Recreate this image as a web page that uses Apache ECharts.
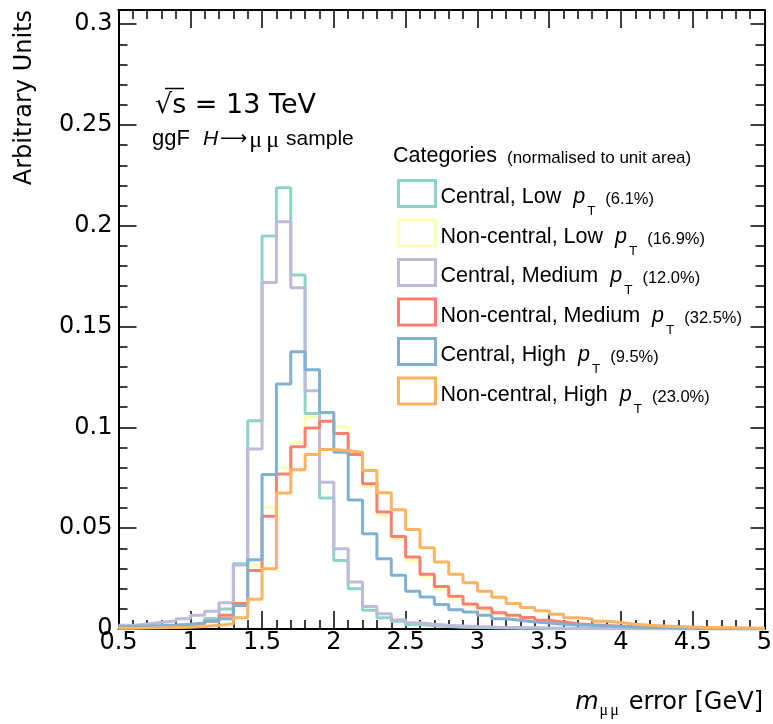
<!DOCTYPE html>
<html>
<head>
<meta charset="utf-8">
<title>m_mumu error per category</title>
<script src="https://cdn.jsdelivr.net/npm/echarts@6/dist/echarts.min.js"></script>
<style>
  html, body { margin: 0; padding: 0; background: #fff; }
  #chart { width: 773px; height: 724px; }
</style>
</head>
<body>
<div id="chart"></div>
<script>
// lower bin edges, bins are 0.1 GeV wide
var binLow = [0.5, 0.6, 0.7, 0.8, 0.9, 1.0, 1.1, 1.2, 1.3, 1.4,
              1.5, 1.6, 1.7, 1.8, 1.9, 2.0, 2.1, 2.2, 2.3, 2.4,
              2.5, 2.6, 2.7, 2.8, 2.9, 3.0, 3.1, 3.2, 3.3, 3.4,
              3.5, 3.6, 3.7, 3.8, 3.9, 4.0, 4.1, 4.2, 4.3, 4.4,
              4.5, 4.6, 4.7, 4.8, 4.9];
var binHigh = 5.0;

var categoryNames = ['Central, Low', 'Non-central, Low', 'Central, Medium',
                     'Non-central, Medium', 'Central, High', 'Non-central, High'];
var categoryShares = ['6.1%', '16.9%', '12.0%', '32.5%', '9.5%', '23.0%'];
var categoryColors = ['#8dd3c7', '#ffffb3', '#bebada', '#fb8072', '#80b1d3', '#fdb462'];

var centralLow = [0.0008, 0.0009, 0.0011, 0.0014, 0.0019, 0.0027, 0.0052, 0.0099, 0.0323, 0.1033,
                  0.1949, 0.2188, 0.1756, 0.1069, 0.0650, 0.0340, 0.0200, 0.0093, 0.0056, 0.0038,
                  0.0022, 0.0016, 0.0012, 0.0009, 0.0007, 0.0006, 0.0005, 0.0004, 0.0004, 0.0003,
                  0.0003, 0.0002, 0.0002, 0.0002, 0.0001, 0.0001, 0.0001, 0.0001, 0.0001, 0.0001,
                  0.0001, 0.0000, 0.0000, 0.0000, 0.0000];
var noncentralLow = [0.0006, 0.0008, 0.0010, 0.0013, 0.0018, 0.0025, 0.0035, 0.0065, 0.0130, 0.0315,
                     0.0601, 0.0799, 0.0926, 0.1053, 0.1065, 0.1003, 0.0880, 0.0705, 0.0560, 0.0445,
                     0.0340, 0.0260, 0.0198, 0.0150, 0.0116, 0.0095, 0.0075, 0.0060, 0.0050, 0.0040,
                     0.0032, 0.0024, 0.0019, 0.0015, 0.0012, 0.0010, 0.0008, 0.0007, 0.0006, 0.0005,
                     0.0004, 0.0003, 0.0003, 0.0002, 0.0002];
var centralMedium = [0.0018, 0.0025, 0.0033, 0.0040, 0.0051, 0.0068, 0.0088, 0.0130, 0.0317, 0.0893,
                     0.1718, 0.2020, 0.1693, 0.1182, 0.0728, 0.0398, 0.0233, 0.0112, 0.0076, 0.0046,
                     0.0031, 0.0023, 0.0018, 0.0015, 0.0012, 0.0010, 0.0008, 0.0007, 0.0006, 0.0005,
                     0.0004, 0.0004, 0.0003, 0.0003, 0.0002, 0.0002, 0.0002, 0.0001, 0.0001, 0.0001,
                     0.0001, 0.0001, 0.0001, 0.0000, 0.0000];
var noncentralMedium = [0.0008, 0.0010, 0.0012, 0.0015, 0.0020, 0.0028, 0.0038, 0.0068, 0.0126, 0.0290,
                        0.0559, 0.0769, 0.0904, 0.0997, 0.1030, 0.0970, 0.0865, 0.0720, 0.0580, 0.0459,
                        0.0357, 0.0271, 0.0211, 0.0163, 0.0124, 0.0104, 0.0081, 0.0068, 0.0057, 0.0043,
                        0.0035, 0.0026, 0.0021, 0.0017, 0.0014, 0.0011, 0.0009, 0.0007, 0.0006, 0.0005,
                        0.0004, 0.0003, 0.0003, 0.0002, 0.0002];
var centralHigh = [0.0012, 0.0015, 0.0017, 0.0020, 0.0024, 0.0030, 0.0040, 0.0051, 0.0117, 0.0343,
                   0.0766, 0.1215, 0.1375, 0.1286, 0.1074, 0.0876, 0.0640, 0.0472, 0.0348, 0.0266,
                   0.0187, 0.0159, 0.0121, 0.0096, 0.0084, 0.0068, 0.0051, 0.0043, 0.0035, 0.0030,
                   0.0024, 0.0020, 0.0018, 0.0015, 0.0012, 0.0010, 0.0009, 0.0007, 0.0006, 0.0005,
                   0.0004, 0.0004, 0.0003, 0.0003, 0.0002];
var noncentralHigh = [0.0004, 0.0005, 0.0006, 0.0007, 0.0009, 0.0013, 0.0018, 0.0026, 0.0056, 0.0147,
                      0.0299, 0.0675, 0.0790, 0.0865, 0.0890, 0.0885, 0.0876, 0.0786, 0.0676, 0.0591,
                      0.0494, 0.0403, 0.0332, 0.0272, 0.0230, 0.0187, 0.0157, 0.0127, 0.0107, 0.0091,
                      0.0073, 0.0056, 0.0050, 0.0038, 0.0032, 0.0023, 0.0018, 0.0015, 0.0012, 0.0010,
                      0.0008, 0.0007, 0.0006, 0.0005, 0.0004];

var allValues = [centralLow, noncentralLow, centralMedium, noncentralMedium, centralHigh, noncentralHigh];

// turn bin contents into step points (left edge + closing right edge)
function histPoints(vals) {
    var pts = [];
    for (var i = 0; i < binLow.length; i++) {
        pts.push([binLow[i], vals[i]]);
    }
    pts.push([binHigh, vals[vals.length - 1]]);
    return pts;
}

var axisFont = 'DejaVu Sans';
var textFont = 'Liberation Sans';

function makeX(pos) {
    return {
        type: 'value', position: pos, min: 0.5, max: 5, interval: 0.5,
        axisLine: { show: true, onZero: false, lineStyle: { color: '#000', width: 2 } },
        axisTick: { show: true, inside: true, length: 18, lineStyle: { color: '#000', width: 1.5 } },
        minorTick: { show: true, splitNumber: 5, length: 9, lineStyle: { color: '#000', width: 1.5 } },
        axisLabel: { show: pos === 'bottom', margin: 2, color: '#000', fontFamily: axisFont, fontSize: 24 },
        splitLine: { show: false }
    };
}
function makeY(pos) {
    return {
        type: 'value', position: pos, min: 0, max: 0.307, interval: 0.05,
        axisLine: { show: true, onZero: false, lineStyle: { color: '#000', width: 2 } },
        axisTick: { show: true, inside: true, length: pos === 'left' ? 18 : 14, lineStyle: { color: '#000', width: 1.5 } },
        minorTick: { show: true, splitNumber: 5, length: 9, lineStyle: { color: '#000', width: 1.5 } },
        axisLabel: {
            show: pos === 'left', margin: 6, color: '#000', fontFamily: axisFont, fontSize: 24,
            formatter: function (v) {
                var k = v / 0.05;
                if (Math.abs(k - Math.round(k)) > 1e-6) return '';
                return String(Math.round(k * 5) / 100);
            }
        },
        splitLine: { show: false }
    };
}

var series = [];
var legendData = [];
for (var s = 0; s < categoryNames.length; s++) {
    series.push({
        name: categoryNames[s],
        type: 'line',
        step: 'end',
        xAxisIndex: 0,
        yAxisIndex: 0,
        showSymbol: false,
        symbol: 'none',
        clip: true,
        z: 2 + s,
        color: categoryColors[s],
        lineStyle: { color: categoryColors[s], width: 3 },
        data: histPoints(allValues[s])
    });
    legendData.push({
        name: categoryNames[s],
        icon: 'rect',
        itemStyle: { color: 'rgba(255,255,255,0)', borderColor: categoryColors[s], borderWidth: 3 }
    });
}

var myChart = echarts.init(document.getElementById('chart'), null, { renderer: 'canvas' });

var option = {
    animation: false,
    backgroundColor: '#fff',
    grid: { left: 118.5, right: 8.5, top: 10, bottom: 95, containLabel: false, outerBoundsMode: 'none' },
    xAxis: [makeX('bottom'), makeX('top')],
    yAxis: [makeY('left'), makeY('right')],
    legend: {
        orient: 'vertical',
        left: 397,
        top: 179,
        padding: 0,
        itemWidth: 37,
        itemHeight: 26,
        itemGap: -7,
        icon: 'rect',
        selectedMode: false,
        data: legendData,
        formatter: function (name) {
            var i = categoryNames.indexOf(name);
            return '{a|' + name + ' }{p|p}{t|T}{b|(' + categoryShares[i] + ')}';
        },
        textStyle: {
            color: '#000',
            rich: {
                a: { fontFamily: textFont, fontSize: 21.5, lineHeight: 24, verticalAlign: 'top', color: '#000', padding: [4.8, 0, 0, 0] },
                p: { fontFamily: textFont, fontSize: 21.5, lineHeight: 24, verticalAlign: 'top', fontStyle: 'italic', color: '#000', padding: [4.8, 0, 0, 6] },
                t: { fontFamily: textFont, fontSize: 13.5, lineHeight: 15, verticalAlign: 'top', color: '#000', padding: [23, 0, 7, 2] },
                b: { fontFamily: textFont, fontSize: 16.5, lineHeight: 18, verticalAlign: 'top', color: '#000', padding: [9.5, 0, 0, 10] }
            }
        }
    },
    graphic: [
        {
            type: 'text', x: 155, y: 106, z: 10,
            style: { text: '\u221As = 13 TeV', font: '27px "DejaVu Sans"', fill: '#000', align: 'left', verticalAlign: 'middle' }
        },
        {
            type: 'line', z: 10,
            shape: { x1: 165, y1: 88.5, x2: 184, y2: 88.5 },
            style: { stroke: '#000', lineWidth: 1.5 }
        },
        {
            type: 'text', x: 152, y: 139, z: 10,
            style: {
                text: '{a|ggF}{i|H}{r|\u27F6}{m|\u03BC}{m|\u03BC}{s|sample}',
                align: 'left', verticalAlign: 'middle', fill: '#000',
                rich: {
                    a: { fontFamily: textFont, fontSize: 22, fill: '#000' },
                    i: { fontFamily: textFont, fontSize: 21, fontStyle: 'italic', fill: '#000', padding: [0, 0, 0, 13] },
                    r: { fontFamily: 'DejaVu Sans', fontSize: 19, fill: '#000', padding: [0, 0, 0, 2] },
                    m: { fontFamily: 'Liberation Serif', fontSize: 24, fill: '#000', padding: [3, 2, 0, 2] },
                    s: { fontFamily: textFont, fontSize: 21, fill: '#000', padding: [0, 0, 0, 5] }
                }
            }
        },
        {
            type: 'text', x: 393, y: 156, z: 10,
            style: {
                text: '{a|Categories}{b|(normalised to unit area)}',
                align: 'left', verticalAlign: 'middle', fill: '#000',
                rich: {
                    a: { fontFamily: textFont, fontSize: 21.5, fill: '#000', verticalAlign: 'bottom' },
                    b: { fontFamily: textFont, fontSize: 17, fill: '#000', verticalAlign: 'bottom', padding: [0, 0, 0, 10] }
                }
            }
        },
        {
            type: 'text', x: 763, y: 703, z: 10,
            style: {
                text: '{i|m}{s|\u03BC}{s|\u03BC}{a|error [GeV]}',
                align: 'right', verticalAlign: 'middle', fill: '#000',
                rich: {
                    i: { fontFamily: axisFont, fontSize: 24, fontStyle: 'italic', fill: '#000' },
                    s: { fontFamily: 'Liberation Serif', fontSize: 16, fill: '#000', padding: [16, 1, 0, 1] },
                    a: { fontFamily: axisFont, fontSize: 24, fill: '#000', padding: [0, 0, 0, 9] }
                }
            }
        },
        {
            type: 'text', x: 25, y: 10, z: 10, rotation: Math.PI / 2,
            style: { text: 'Arbitrary Units', font: '24px "DejaVu Sans"', fill: '#000', align: 'right', verticalAlign: 'middle' }
        }
    ],
    series: series
};

myChart.setOption(option);
window.addEventListener('resize', function () {
    myChart.resize();
});
</script>
</body>
</html>
